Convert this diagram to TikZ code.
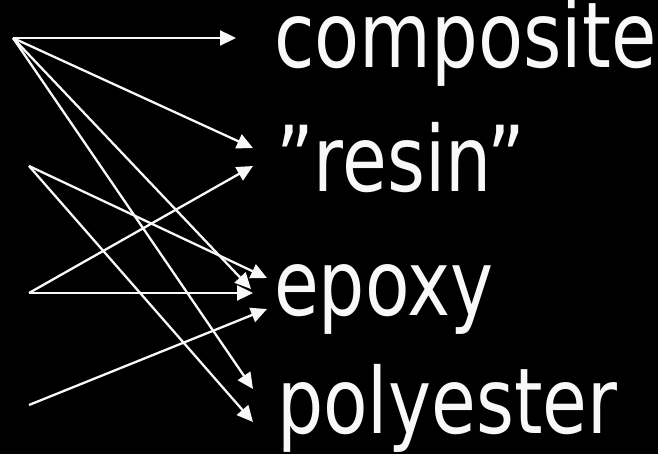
\documentclass[tikz,border=0pt]{standalone}
\usepackage{fontspec}
\setmainfont{DejaVu Sans}
\usetikzlibrary{arrows.meta}
\definecolor{fg}{RGB}{248,248,248}
\begin{document}
\begin{tikzpicture}[x=1pt,y=-1pt,
  link/.style={draw=fg,line width=2.3pt,-{Triangle[length=16pt,width=15pt]}},
  word/.style={anchor=base west,inner sep=0pt,text=fg,font=\fontsize{91}{91}\selectfont}]
\fill[black] (0,0) rectangle (658,454);
\useasboundingbox (0,0) rectangle (658,454);
% sources
\coordinate (s1) at (13,38);
\coordinate (s2) at (29,166);
\coordinate (s3) at (29,293);
\coordinate (s4) at (29,405);
% words
\node[word] (comp) at (274,68) {\scalebox{0.81}[1]{composite}};
\node[word] (resin) at (276,192) {\scalebox{0.80}[1]{”resin”}};
\node[word] (epoxy) at (274,315) {\scalebox{0.80}[1]{epoxy}};
\node[word] (poly) at (277,433) {\scalebox{0.80}[1]{polyester}};
% arrow tips
\coordinate (c1) at (236,38);
\coordinate (r1) at (253,148);
\coordinate (r2) at (253,166);
\coordinate (e1) at (267,278);
\coordinate (e2) at (251,289);
\coordinate (e3) at (253,293);
\coordinate (e4) at (267,309);
\coordinate (p1) at (253,389);
\coordinate (p2) at (253,422);
% connectors
\draw[link] (s1) -- (c1);
\draw[link] (s1) -- (r1);
\draw[link] (s1) -- (e2);
\draw[link] (s1) -- (p1);
\draw[link] (s2) -- (e1);
\draw[link] (s2) -- (p2);
\draw[link] (s3) -- (r2);
\draw[link] (s3) -- (e3);
\draw[link] (s4) -- (e4);
\end{tikzpicture}
\end{document}
